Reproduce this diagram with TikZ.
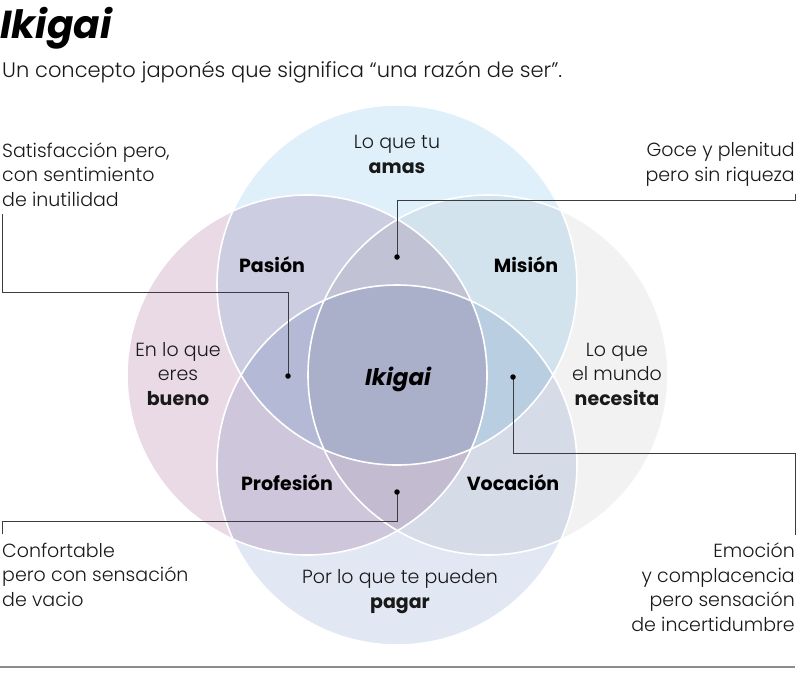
\documentclass[tikz,border=0pt]{standalone}
\usepackage{fontspec}
\setmainfont{Poppins}[UprightFont=* Light, BoldFont=* Bold, ItalicFont=* Light Italic, BoldItalicFont=* Bold Italic]
\usetikzlibrary{positioning}

\definecolor{ringblue}{RGB}{223,240,250}
\definecolor{ringpink}{RGB}{234,218,229}
\definecolor{ringgrey}{RGB}{242,242,242}
\definecolor{ringsky}{RGB}{225,232,244}
\definecolor{leadgrey}{RGB}{60,60,64}

\begin{document}
\begin{tikzpicture}[
		x=1pt, y=-1pt,
		ring/.style	={ circle, minimum size=360pt, inner sep=0pt,
		},
		rim/.style	={ circle, minimum size=360pt, inner sep=0pt,
			draw=white, line width=1.6pt,
		},
		lead/.style	={ draw=leadgrey, line width=0.9pt, line join=miter,
		},
		dot/.style	={ circle, fill=black, inner sep=0pt, minimum size=5.5pt,
		},
		note/.style	={ font=\fontsize{19}{24.5}\selectfont, text=black!90,
			inner sep=0pt,
		},
		area/.style	={ font=\fontsize{19}{24}\selectfont\bfseries, inner sep=0pt,
		},
	]
	\useasboundingbox (0,0) rectangle (800,675);
	
	\def\ringlist{ 397/285/ringblue/love, 307/375/ringpink/good, 488/375/ringgrey/world, 397/465/ringsky/pay}
	
	% draw rings
	\begin{scope}[blend mode=multiply]
		\foreach \x/\y/\c/\n in \ringlist
			\node [ring, fill=\c] (ring_\n) at (\x,\y) {};
	\end{scope}
	\foreach \x/\y/\c/\n in \ringlist
		\node [rim] at (\x,\y) {};
	
	% heading
	\node [anchor=base west, inner sep=0pt, font=\fontsize{39}{42}\selectfont\bfseries\itshape]
		(title) at (0,38) {Ikigai};
	\node [anchor=base west, inner sep=0pt, font=\fontsize{21}{26}\selectfont, text=black!90]
		(subtitle) at (2,77) {Un concepto japonés que significa “una razón de ser”.};
	
	% circle labels (base = last line)
	\node [note, align=center, anchor=base] (lbl_love) at (397,173) {Lo que tu\\\textbf{amas}};
	\node [note, align=center, anchor=base] (lbl_good) at (178,405) {En lo que\\eres\\\textbf{bueno}};
	\node [note, align=center, anchor=base] (lbl_world) at (617,405) {Lo que\\el mundo\\\textbf{necesita}};
	\node [note, align=center, anchor=base] (lbl_pay) at (400,608) {Por lo que te pueden\\\textbf{pagar}};
	
	% overlap labels
	\node [area, anchor=base] (pasion) at (272,272) {Pasión};
	\node [area, anchor=base] (mision) at (526,272) {Misión};
	\node [area, anchor=base] (profesion) at (287,490) {Profesión};
	\node [area, anchor=base] (vocacion) at (513,490) {Vocación};
	\node [area, anchor=base, font=\fontsize{23}{26}\selectfont\bfseries\itshape] (ikigai) at (398,385) {Ikigai};
	
	% side notes
	\node [note, align=left, anchor=base west] (satis) at (2,206)
		{Satisfacción pero,\\con sentimiento\\de inutilidad};
	\node [note, align=right, anchor=base east] (goce) at (795,181)
		{Goce y plenitud\\pero sin riqueza};
	\node [note, align=left, anchor=base west] (confort) at (2,606)
		{Confortable\\pero con sensación\\de vacio};
	\node [note, align=right, anchor=base east] (emocion) at (795,631)
		{Emoción\\y complacencia\\pero sensación\\de incertidumbre};
	
	% dots
	\coordinate (dot_gp) at (288,376);
	\coordinate (dot_lw) at (397,257);
	\coordinate (dot_gpy) at (397,492);
	\coordinate (dot_wp) at (513,377);
	
	% draw leaders
	\coordinate (bend_1) at (2,292);
	\coordinate (bend_2) at (795,200);
	\coordinate (bend_3) at (2,521);
	\coordinate (bend_4) at (795,453);
	\draw [lead] ([yshift=-8pt]satis.south west) -- (bend_1) -| (dot_gp);
	\draw [lead] ([yshift=-8pt]goce.south east) -- (bend_2) -| (dot_lw);
	\draw [lead] ([yshift=8pt]confort.north west) -- (bend_3) -| (dot_gpy);
	\draw [lead] ([yshift=8pt]emocion.north east) -- (bend_4) -| (dot_wp);
	\foreach \d in {dot_gp, dot_lw, dot_gpy, dot_wp}
		\node [dot] at (\d) {};
	
	% bottom rule
	\draw [black!45, line width=1.6pt] (0,667) -- (795,667);
	
\end{tikzpicture}
\end{document}
